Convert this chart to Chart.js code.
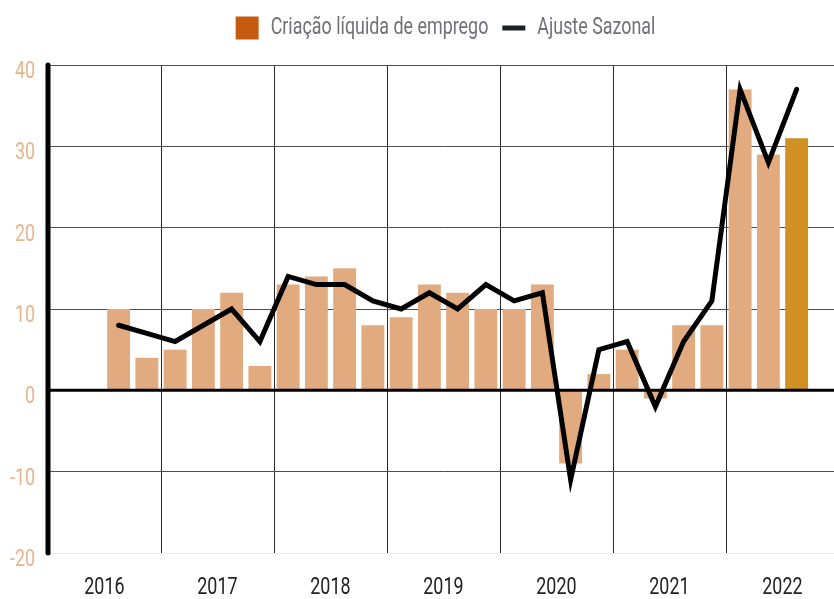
<!DOCTYPE html>
<html><head><meta charset="utf-8">
<script src="https://cdn.jsdelivr.net/npm/chart.js@4.4.0/dist/chart.umd.min.js"></script>
<style>html,body{margin:0;padding:0;background:#fff;overflow:hidden;}#wrap{width:834px;height:599px;overflow:hidden;}canvas{display:block;}</style>
</head><body><div id="wrap"><canvas id="c" width="839" height="599"></canvas></div>
<script>
const quarters = [
  '2016T1','2016T2','2016T3','2016T4',
  '2017T1','2017T2','2017T3','2017T4',
  '2018T1','2018T2','2018T3','2018T4',
  '2019T1','2019T2','2019T3','2019T4',
  '2020T1','2020T2','2020T3','2020T4',
  '2021T1','2021T2','2021T3','2021T4',
  '2022T1','2022T2','2022T3','2022T4'
];
const yearLabels = ['2016','2017','2018','2019','2020','2021','2022'];
const netJobCreation = [null,null,10,4,5,10,12,3,13,14,15,8,9,13,12,10,10,13,-9,2,5,-1,8,8,37,29,31,null];
const seasonalAdjustment = [null,null,8,7,6,8,10,6,14,13,13,11,10,12,10,13,11,12,-11,5,6,-2,6,11,37,28,37,null];
const yTicks = [-20,-10,0,10,20,30,40];
const legendLabels = ['Criação líquida de emprego','Ajuste Sazonal'];

// condensed rendering of the text (the original uses a condensed typeface)
const SX = 0.745;
(function(){
  const P = CanvasRenderingContext2D.prototype;
  const mt = P.measureText, ft = P.fillText;
  P.measureText = function(t){
    const m = mt.call(this, t);
    return { width: m.width * SX,
      actualBoundingBoxAscent: m.actualBoundingBoxAscent, actualBoundingBoxDescent: m.actualBoundingBoxDescent,
      actualBoundingBoxLeft: m.actualBoundingBoxLeft * SX, actualBoundingBoxRight: m.actualBoundingBoxRight * SX,
      fontBoundingBoxAscent: m.fontBoundingBoxAscent, fontBoundingBoxDescent: m.fontBoundingBoxDescent };
  };
  P.fillText = function(t, x, y, mw){
    const w = mt.call(this, String(t)).width * SX;
    return ft.call(this, t, x, y, mw !== undefined ? Math.min(mw, w) : w);
  };
})();

const FONT = "Roboto,'Liberation Sans',sans-serif";
const BAR = '#E1AB7F', BAR_LAST = '#D19024';
let lastIdx = 0; netJobCreation.forEach((v,i)=>{ if (v!==null) lastIdx=i; });
const barColors = netJobCreation.map((v,i)=> i===lastIdx ? BAR_LAST : BAR);

const deco = {
  id: 'deco',
  beforeLayout(chart) {
    const lg = chart.legend;
    if (lg && !lg._patched) {
      const f = lg.fit;
      lg.fit = function(){ f.call(this); this.height = 63; };
      lg._patched = true;
    }
  },
  afterLayout(chart) {
    if (chart.legend) { chart.legend.left = 48; chart.legend.right = 843; }
  },
  afterDatasetDraw(chart, args) {
    if (args.index === 0) {
      const {ctx, chartArea} = chart;
      const y = chart.scales.y.getPixelForValue(0);
      ctx.save();
      ctx.strokeStyle = '#000'; ctx.lineWidth = 3;
      ctx.beginPath(); ctx.moveTo(chartArea.left, y); ctx.lineTo(chartArea.right, y); ctx.stroke();
      ctx.restore();
    }
  },
  afterDraw(chart) {
    const {ctx, chartArea} = chart;
    ctx.save();
    ctx.strokeStyle = '#000'; ctx.lineWidth = 5; ctx.lineCap = 'round';
    ctx.beginPath(); ctx.moveTo(chartArea.left, chartArea.top); ctx.lineTo(chartArea.left, chartArea.bottom); ctx.stroke();
    ctx.restore();
  }
};

new Chart(document.getElementById('c'), {
  data: {
    labels: quarters,
    datasets: [
      { type: 'bar', label: legendLabels[0], data: netJobCreation, backgroundColor: barColors,
        barPercentage: 1, categoryPercentage: 0.81, order: 1 },
      { type: 'line', label: legendLabels[1], data: seasonalAdjustment, borderColor: '#000', borderWidth: 5,
        pointRadius: 0, tension: 0, borderCapStyle: 'round', borderJoinStyle: 'miter', spanGaps: false, order: 0 }
    ]
  },
  options: {
    responsive: false, animation: false, devicePixelRatio: 1,
    layout: { padding: { left: 0, right: 0, top: 2, bottom: 0 } },
    plugins: {
      tooltip: { enabled: false },
      legend: {
        position: 'top', align: 'center',
        labels: {
          usePointStyle: true, pointStyleWidth: 23, boxHeight: 23, padding: 14,
          font: { family: FONT, size: 24 }, color: '#707078',
          generateLabels: () => [
            { text: legendLabels[0], fillStyle: '#C55A11', strokeStyle: '#C55A11', lineWidth: 0, pointStyle: 'rect', fontColor: '#707078', hidden: false, datasetIndex: 0 },
            { text: legendLabels[1], fillStyle: '#1b1f27', strokeStyle: '#1b1f27', lineWidth: 5, pointStyle: 'line', fontColor: '#707078', hidden: false, datasetIndex: 1 }
          ]
        }
      }
    },
    scales: {
      x: {
        type: 'category', offset: true,
        afterFit: (s) => { s.height = 46; },
        border: { display: false },
        grid: { offset: true, drawTicks: false, lineWidth: 1,
          color: (c) => (c.index % 4 === 0 && c.index > 0) ? '#2a2a2a' : 'rgba(0,0,0,0)' },
        ticks: { autoSkip: false, maxRotation: 0, minRotation: 0, padding: 12, labelOffset: 14,
          color: '#222', font: { family: FONT, size: 24, lineHeight: 1.92 },
          callback: (v, i) => (i % 4 === 1) ? yearLabels[(i - 1) / 4] : '' }
      },
      y: {
        min: yTicks[0], max: yTicks[yTicks.length - 1],
        afterFit: (s) => { s.width = 48; },
        afterBuildTicks: (s) => { s.ticks = yTicks.map(v => ({ value: v })); },
        border: { display: false },
        grid: { drawTicks: false, lineWidth: 1,
          color: (c) => {
            const v = c.tick ? c.tick.value : null;
            if (v === 0) return 'rgba(0,0,0,0)';
            if (v === yTicks[0]) return '#f1e7de';
            return '#4d4d4d';
          } },
        ticks: { padding: 13, labelOffset: 7, color: '#E8B48A', font: { family: FONT, size: 24 },
          callback: (v) => String(v) }
      }
    }
  },
  plugins: [deco]
});
</script></body></html>
